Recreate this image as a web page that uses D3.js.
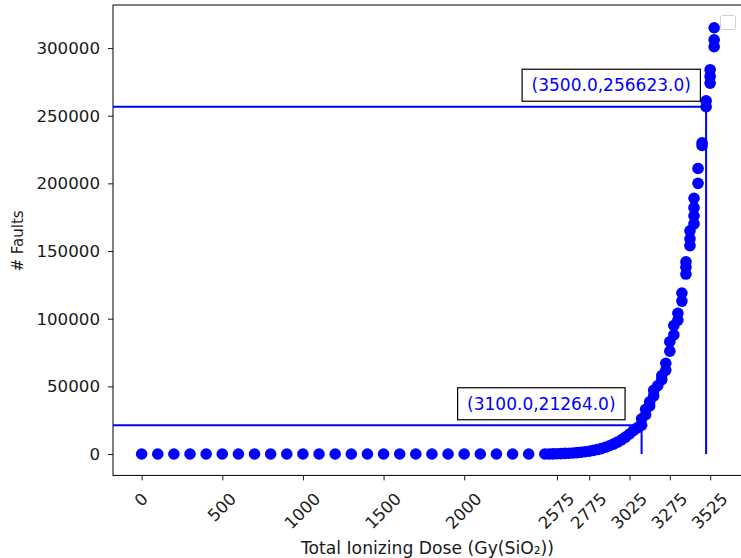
<!DOCTYPE html>
<html>
<head>
<meta charset="utf-8">
<script src="https://cdn.jsdelivr.net/npm/d3@7/dist/d3.min.js"></script>
<style>
    body { margin: 0; background: #fff; }
    text { font-family: "DejaVu Sans", sans-serif; }
</style>
</head>
<body>
<script>

    // dose (Gy) and fault count of every scatter point
    var doses = [
        0, 100, 200, 300, 400, 500, 600, 700, 800, 900, 1000, 1100, 1200,
        1300, 1400, 1500, 1600, 1700, 1800, 1900, 2000, 2100, 2200, 2300, 2400,
        2500, 2525, 2550, 2575, 2600, 2625, 2650, 2675, 2700, 2725, 2750, 2775,
        2800, 2825, 2850, 2875, 2900, 2925, 2950, 2975, 3000, 3025, 3050, 3075,
        3100, 3100, 3125, 3125, 3150, 3150, 3175, 3175, 3200, 3225, 3225,
        3250, 3250, 3275, 3275, 3300, 3300, 3325, 3325, 3350, 3350,
        3375, 3375, 3375, 3400, 3400, 3400, 3425, 3425, 3425, 3425,
        3450, 3450, 3475, 3475, 3500, 3500, 3525, 3525, 3525, 3550, 3550, 3550
    ];
    var faults = [
        0, 0, 0, 0, 0, 0, 0, 0, 0, 0, 0, 0, 0,
        0, 0, 0, 0, 0, 0, 0, 0, 0, 0, 0, 0,
        0, 50, 100, 200, 300, 450, 600, 800, 1000, 1300, 1700, 2100,
        2700, 3300, 4000, 5000, 6100, 7300, 8800, 10500, 12500, 14800, 17500, 19500,
        21264, 26000, 29000, 33000, 35500, 38500, 43000, 47000, 50500, 55000, 58000,
        62000, 67000, 76000, 83000, 88000, 95000, 99000, 104000, 113000, 119000,
        133000, 138000, 142000, 154000, 159000, 165000, 170000, 176000, 182000, 189000,
        200000, 211000, 228000, 230000, 256623, 261000, 274000, 279000, 284000, 301000, 306000, 315000
    ];

    var xTicks = [0, 500, 1000, 1500, 2000, 2575, 2775, 3025, 3275, 3525];
    var yTicks = [0, 50000, 100000, 150000, 200000, 250000, 300000];

    // marked points with guide lines and boxed labels
    var markDoses = [3100, 3500];
    var markFaults = [21264, 256623];

    var width = 741,
        height = 558,
        plotLeft = 113,
        plotRight = 742.8,
        plotTop = 5,
        plotBottom = 475.4,
        tickFont = "16.67px";

    var x = d3.scaleLinear()
              .domain([-177.5, 3727.5])
              .range([plotLeft, plotRight]);

    var y = d3.scaleLinear()
              .domain([-15800, 331800])
              .range([plotBottom, plotTop]);

    var svg = d3.select("body")
                .append("svg")
                .attr("width", width)
                .attr("height", height);

    // y axis
    var yAxis = svg.append("g")
                   .attr("transform", "translate(" + plotLeft + ",0)")
                   .call(d3.axisLeft(y).tickValues(yTicks).tickSize(5).tickPadding(8).tickFormat(d3.format("d")));
    yAxis.select(".domain").remove();
    yAxis.selectAll("line").attr("stroke", "#000").attr("stroke-width", 0.9);
    yAxis.selectAll("text")
         .attr("font-size", tickFont)
         .attr("font-family", "DejaVu Sans, sans-serif")
         .attr("fill", "#1a1a1a");

    // x axis
    var xAxis = svg.append("g")
                   .attr("transform", "translate(0," + plotBottom + ")")
                   .call(d3.axisBottom(x).tickValues(xTicks).tickSize(5).tickFormat(d3.format("d")));
    xAxis.select(".domain").remove();
    xAxis.selectAll("line").attr("stroke", "#000").attr("stroke-width", 0.9);
    xAxis.selectAll("text")
         .attr("font-size", tickFont)
         .attr("font-family", "DejaVu Sans, sans-serif")
         .attr("fill", "#1a1a1a")
         .attr("text-anchor", "middle")
         .attr("y", null)
         .attr("dy", "0.35em")
         .attr("transform", function () {
             var w = this.getComputedTextLength();
             var cy = 13.6 + (w + 19.5) / 2.83;
             return "translate(-1," + cy + ") rotate(-45)";
         });

    // spines
    svg.append("rect")
       .attr("x", plotLeft)
       .attr("y", plotTop)
       .attr("width", plotRight - plotLeft)
       .attr("height", plotBottom - plotTop)
       .attr("fill", "none")
       .attr("stroke", "#000")
       .attr("stroke-width", 1);

    // scatter
    svg.append("g")
       .selectAll("circle")
       .data(doses)
       .enter()
       .append("circle")
       .attr("cx", (d) => x(d))
       .attr("cy", (d, i) => y(faults[i]))
       .attr("r", 5.8)
       .attr("fill", "#0000ff");

    // guide lines
    var guides = svg.append("g");
    markDoses.forEach((d, i) => {
        guides.append("line")
              .attr("x1", plotLeft).attr("x2", x(d))
              .attr("y1", y(markFaults[i])).attr("y2", y(markFaults[i]))
              .attr("stroke", "#0000ff")
              .attr("stroke-width", 2);
        guides.append("line")
              .attr("x1", x(d)).attr("x2", x(d))
              .attr("y1", y(0)).attr("y2", y(markFaults[i]))
              .attr("stroke", "#0000ff")
              .attr("stroke-width", 2);
    });

    // boxed labels
    markDoses.forEach((d, i) => {
        var bx = x(d) - 184,
            by = y(markFaults[i]) - 5.5,
            boxH = 32,
            pad = 9.5;
        var g = svg.append("g");
        var rect = g.append("rect");
        var t = g.append("text")
                 .attr("x", bx + pad)
                 .attr("y", by - boxH / 2)
                 .attr("dy", "0.34em")
                 .attr("font-size", "17px")
                 .attr("fill", "#0000ff")
                 .text("(" + d.toFixed(1) + "," + markFaults[i].toFixed(1) + ")");
        var w = t.node().getComputedTextLength();
        rect.attr("x", bx)
            .attr("y", by - boxH)
            .attr("width", w + 2 * pad)
            .attr("height", boxH)
            .attr("fill", "#fff")
            .attr("stroke", "#000")
            .attr("stroke-width", 1.2);
    });

    // empty legend frame
    svg.append("rect")
       .attr("x", 720.5)
       .attr("y", 15.5)
       .attr("width", 15)
       .attr("height", 14)
       .attr("rx", 2)
       .attr("fill", "#fff")
       .attr("stroke", "#d0d0d0")
       .attr("stroke-width", 1);

    // axis titles
    svg.append("text")
       .attr("x", 427.5)
       .attr("y", 553.5)
       .attr("text-anchor", "middle")
       .attr("font-size", "17.2px")
       .attr("fill", "#1a1a1a")
       .text("Total Ionizing Dose (Gy(SiO\u2082))");

    svg.append("text")
       .attr("transform", "translate(22.5,241) rotate(-90)")
       .attr("text-anchor", "middle")
       .attr("font-size", "15px")
       .attr("fill", "#1a1a1a")
       .text("# Faults");

</script>
</body>
</html>
